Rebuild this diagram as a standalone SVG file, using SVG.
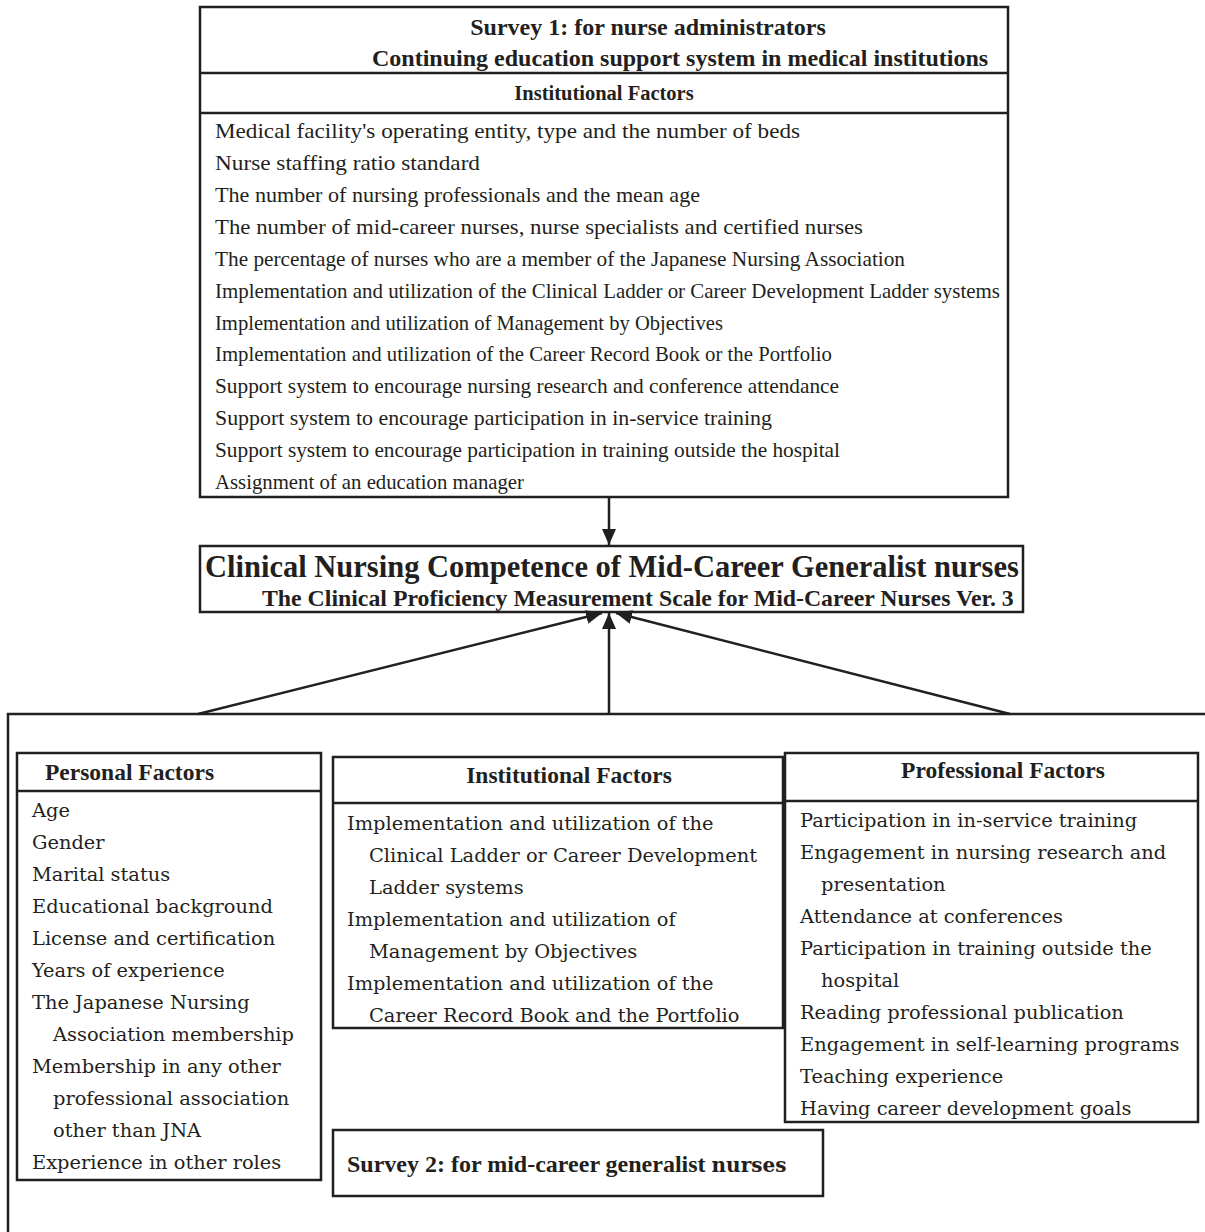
<svg xmlns="http://www.w3.org/2000/svg" width="1205" height="1232" viewBox="0 0 1205 1232">
<defs>
<style>
.box{fill:#fff;stroke:#231f20;stroke-width:2.5}
.ln{fill:none;stroke:#231f20;stroke-width:2.5}
.con{fill:none;stroke:#231f20;stroke-width:2.5}
.tr{font-family:"Liberation Serif","Times New Roman",serif;fill:#231f20}
.tb{font-family:"Liberation Serif","Times New Roman",serif;font-weight:bold;fill:#231f20}
.cs{font-family:"DejaVu Serif",serif;font-size:19.4px;fill:#231f20}
.it{font-size:21px}
.hd{font-size:23.5px}
</style>
<marker id="ah" markerWidth="16" markerHeight="14" refX="16" refY="7" orient="auto" markerUnits="userSpaceOnUse">
<path d="M0,0 L16,7 L0,14 z" fill="#231f20"/>
</marker>
</defs>
<rect width="1205" height="1232" fill="#fff"/>

<g id="survey1">
<rect class="box" x="200" y="7" width="808" height="490"/>
<line class="ln" x1="200" y1="73" x2="1008" y2="73"/>
<line class="ln" x1="200" y1="113" x2="1008" y2="113"/>
<text class="tb" font-size="24" x="648" y="35" text-anchor="middle">Survey 1: for nurse administrators</text>
<text class="tb" font-size="24" x="372" y="66">Continuing education support system in medical institutions</text>
<text class="tb" font-size="20.5" x="604" y="100" text-anchor="middle">Institutional Factors</text>
<g class="tr it">
<text x="215" y="138" textLength="585" lengthAdjust="spacingAndGlyphs">Medical facility's operating entity, type and the number of beds</text>
<text x="215" y="170" textLength="265" lengthAdjust="spacingAndGlyphs">Nurse staffing ratio standard</text>
<text x="215" y="202" textLength="485" lengthAdjust="spacingAndGlyphs">The number of nursing professionals and the mean age</text>
<text x="215" y="234" textLength="648" lengthAdjust="spacingAndGlyphs">The number of mid-career nurses, nurse specialists and certified nurses</text>
<text x="215" y="266" textLength="690" lengthAdjust="spacingAndGlyphs">The percentage of nurses who are a member of the Japanese Nursing Association</text>
<text x="215" y="298" textLength="785" lengthAdjust="spacingAndGlyphs">Implementation and utilization of the Clinical Ladder or Career Development Ladder systems</text>
<text x="215" y="330" textLength="508" lengthAdjust="spacingAndGlyphs">Implementation and utilization of Management by Objectives</text>
<text x="215" y="361" textLength="617" lengthAdjust="spacingAndGlyphs">Implementation and utilization of the Career Record Book or the Portfolio</text>
<text x="215" y="393" textLength="624" lengthAdjust="spacingAndGlyphs">Support system to encourage nursing research and conference attendance</text>
<text x="215" y="425" textLength="557" lengthAdjust="spacingAndGlyphs">Support system to encourage participation in in-service training</text>
<text x="215" y="457" textLength="625" lengthAdjust="spacingAndGlyphs">Support system to encourage participation in training outside the hospital</text>
<text x="215" y="489" textLength="309" lengthAdjust="spacingAndGlyphs">Assignment of an education manager</text>
</g>
</g>

<g id="competence">
<rect class="box" x="200" y="546" width="823" height="66"/>
<text class="tb" font-size="30.5" x="205" y="577">Clinical Nursing Competence of Mid-Career Generalist nurses</text>
<text class="tb" font-size="23.8" x="262" y="606">The Clinical Proficiency Measurement Scale for Mid-Career Nurses Ver. 3</text>
</g>

<g id="survey2-frame">
<polyline class="ln" points="8,1232 8,714 1205,714"/>
</g>

<g id="connectors">
<line class="con" x1="609" y1="497" x2="609" y2="545" marker-end="url(#ah)"/>
<line class="con" x1="198" y1="714" x2="602" y2="613" marker-end="url(#ah)"/>
<line class="con" x1="609" y1="714" x2="609" y2="613" marker-end="url(#ah)"/>
<line class="con" x1="1010" y1="714" x2="616" y2="613" marker-end="url(#ah)"/>
</g>

<g id="personal">
<rect class="box" x="17" y="753" width="304" height="427"/>
<line class="ln" x1="17" y1="791" x2="321" y2="791"/>
<text class="tb hd" x="45" y="780">Personal Factors</text>
<g class="cs">
<text x="32" y="817">Age</text>
<text x="32" y="849">Gender</text>
<text x="32" y="881">Marital status</text>
<text x="32" y="913">Educational background</text>
<text x="32" y="945">License and certification</text>
<text x="32" y="977">Years of experience</text>
<text x="32" y="1009">The Japanese Nursing</text>
<text x="53" y="1041">Association membership</text>
<text x="32" y="1073">Membership in any other</text>
<text x="53" y="1105">professional association</text>
<text x="53" y="1137">other than JNA</text>
<text x="32" y="1169">Experience in other roles</text>
</g>
</g>

<g id="institutional">
<rect class="box" x="333" y="757" width="450" height="271"/>
<line class="ln" x1="333" y1="803" x2="783" y2="803"/>
<text class="tb hd" x="569" y="783" text-anchor="middle">Institutional Factors</text>
<g class="cs">
<text x="347" y="830">Implementation and utilization of the</text>
<text x="369" y="862">Clinical Ladder or Career Development</text>
<text x="369" y="894">Ladder systems</text>
<text x="347" y="926">Implementation and utilization of</text>
<text x="369" y="958">Management by Objectives</text>
<text x="347" y="990">Implementation and utilization of the</text>
<text x="369" y="1022">Career Record Book and the Portfolio</text>
</g>
</g>

<g id="professional">
<rect class="box" x="785" y="753" width="413" height="369"/>
<line class="ln" x1="785" y1="801" x2="1198" y2="801"/>
<text class="tb hd" x="1003" y="778" text-anchor="middle">Professional Factors</text>
<g class="cs">
<text x="800" y="827">Participation in in-service training</text>
<text x="800" y="859">Engagement in nursing research and</text>
<text x="821" y="891">presentation</text>
<text x="800" y="923">Attendance at conferences</text>
<text x="800" y="955">Participation in training outside the</text>
<text x="821" y="987">hospital</text>
<text x="800" y="1019">Reading professional publication</text>
<text x="800" y="1051">Engagement in self-learning programs</text>
<text x="800" y="1083">Teaching experience</text>
<text x="800" y="1115">Having career development goals</text>
</g>
</g>

<g id="survey2">
<rect class="box" x="333" y="1130" width="490" height="66"/>
<text class="tb" font-size="24" x="347" y="1172">Survey 2: for mid-career generalist <tspan font-family="DejaVu Serif, serif" font-size="20">nurses</tspan></text>
</g>
</svg>
